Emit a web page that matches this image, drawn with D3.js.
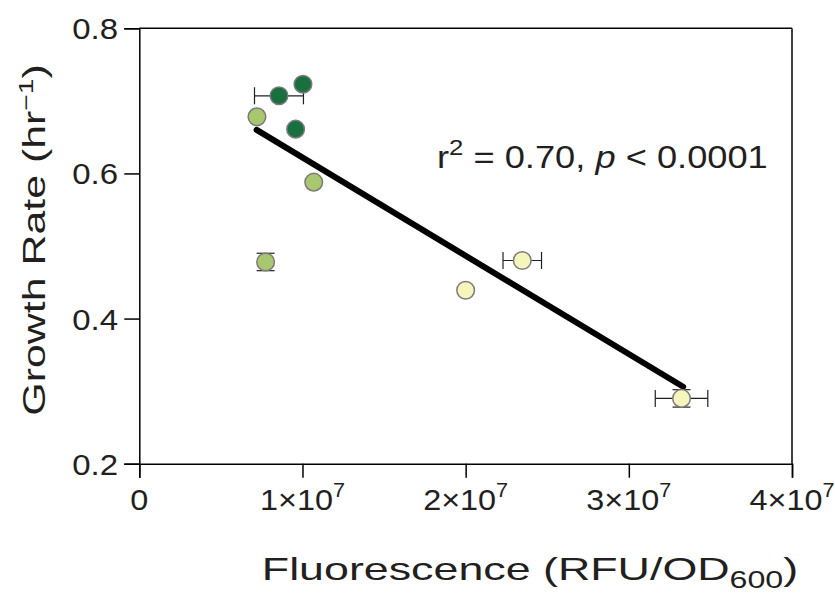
<!DOCTYPE html>
<html>
<head>
<meta charset="utf-8">
<script src="https://cdn.jsdelivr.net/npm/d3@7"></script>
<style>
  body { margin: 0; background: #fff; }
  text { font-family: "Liberation Sans", Arial, sans-serif; fill: #231f20; }
</style>
</head>
<body>
<script>
// data
const fluor  = [1.003e7, 0.856e7, 0.721e7, 0.958e7, 1.069e7, 0.774e7, 2.347e7, 2.0e7, 3.323e7];
const fluorErr = [0, 0.15e7, 0, 0, 0, 0, 0.118e7, 0, 0.161e7];
const growth = [0.723, 0.707, 0.678, 0.661, 0.588, 0.478, 0.480, 0.439, 0.290];
const growthErr = [0, 0, 0, 0, 0, 0.012, 0, 0, 0.012];
const group  = ["dark", "dark", "light", "dark", "light", "light", "pale", "pale", "pale"];
const fitX = [0.719e7, 3.333e7];
const fitY = [0.660, 0.306];
const xTicks = [0, 1e7, 2e7, 3e7, 4e7];
const yTicks = [0.2, 0.4, 0.6, 0.8];

const colors = { dark: "#18703f", light: "#a8c76e", pale: "#f6f5bc" };

// the reference type is wider than Liberation Sans, so stretch text horizontally
function widen(text, sx) {
    let b = text.node().getBBox();
    let anchor = text.attr("text-anchor") || "start";
    let ax = anchor === "middle" ? b.x + b.width / 2 : anchor === "end" ? b.x + b.width : b.x;
    text.attr("transform", `translate(${ax},0) scale(${sx},1) translate(${-ax},0)`);
}

function main() {
    let svg = d3.select("body").append("svg")
        .attr("width", 835)
        .attr("height", 596);

    let x = d3.scaleLinear().domain([0, 4e7]).range([139.3, 792]);
    let y = d3.scaleLinear().domain([0.2, 0.8]).range([463.7, 28.3]);

    // frame on top and right
    svg.append("line")
        .attr("x1", x(0)).attr("x2", x(4e7))
        .attr("y1", y(0.8)).attr("y2", y(0.8))
        .attr("stroke", "black").attr("stroke-width", 1.5);
    svg.append("line")
        .attr("x1", x(4e7)).attr("x2", x(4e7))
        .attr("y1", y(0.8)).attr("y2", y(0.2))
        .attr("stroke", "black").attr("stroke-width", 1.5);

    let xaxis = d3.axisBottom(x).tickValues(xTicks).tickSize(14).tickFormat("");
    let gx = svg.append("g")
        .attr("transform", `translate(0,${y(0.2)})`)
        .call(xaxis);

    let yaxis = d3.axisLeft(y).tickValues(yTicks).tickSize(15).tickFormat("");
    let gy = svg.append("g")
        .attr("transform", `translate(${x(0)},0)`)
        .call(yaxis);

    [gx, gy].forEach(g => {
        g.select(".domain").attr("stroke", "black").attr("stroke-width", 1.5);
        g.selectAll(".tick line").attr("stroke", "black").attr("stroke-width", 1.5);
    });

    // x tick labels
    xTicks.forEach(t => {
        let lab = svg.append("text")
            .attr("x", x(t))
            .attr("y", 510)
            .attr("text-anchor", "middle")
            .style("font-size", "30px");
        if (t === 0) {
            lab.text("0");
        } else {
            lab.text((t / 1e7) + "×10");
            lab.append("tspan")
                .attr("dy", -13)
                .style("font-size", "20px")
                .text("7");
        }
        widen(lab, 1.08);
    });

    // y tick labels
    yTicks.forEach(t => {
        let lab = svg.append("text")
            .attr("x", 118)
            .attr("y", y(t) + 11)
            .attr("text-anchor", "end")
            .style("font-size", "30px")
            .text(t.toFixed(1));
        widen(lab, 1.1);
    });

    // axis titles
    let xt = svg.append("text")
        .attr("x", 530)
        .attr("y", 580)
        .attr("text-anchor", "middle")
        .style("font-size", "32px")
        .text("Fluorescence (RFU/OD");
    xt.append("tspan")
        .attr("dy", 8)
        .style("font-size", "23px")
        .text("600");
    xt.append("tspan")
        .attr("dy", -8)
        .text(")");
    widen(xt, 1.4);

    let yg = svg.append("g")
        .attr("transform", "translate(45,240) rotate(-90)");
    let yt = yg.append("text")
        .attr("x", 0)
        .attr("y", 0)
        .attr("text-anchor", "middle")
        .style("font-size", "32px")
        .text("Growth Rate (hr");
    yt.append("tspan")
        .attr("dy", -12)
        .style("font-size", "21px")
        .text("−1");
    yt.append("tspan")
        .attr("dy", 12)
        .text(")");
    widen(yt, 1.34);

    // regression line
    svg.append("line")
        .attr("x1", x(fitX[0])).attr("y1", y(fitY[0]))
        .attr("x2", x(fitX[1])).attr("y2", y(fitY[1]))
        .attr("stroke", "black")
        .attr("stroke-width", 6)
        .attr("stroke-linecap", "round");

    // annotation
    let ann = svg.append("text")
        .attr("x", 437)
        .attr("y", 168)
        .style("font-size", "31px")
        .text("r");
    ann.append("tspan").attr("dy", -13).style("font-size", "22px").text("2");
    ann.append("tspan").attr("dy", 13).text(" = 0.70, ");
    ann.append("tspan").style("font-style", "italic").text("p");
    ann.append("tspan").text(" < 0.0001");
    widen(ann, 1.17);

    // error bars
    let idx = d3.range(fluor.length);
    idx.filter(i => fluorErr[i] > 0).forEach(i => {
        let cy = y(growth[i]);
        let x0 = x(fluor[i] - fluorErr[i]), x1 = x(fluor[i] + fluorErr[i]);
        svg.append("line").attr("x1", x0).attr("x2", x1).attr("y1", cy).attr("y2", cy)
            .attr("stroke", "#231f20").attr("stroke-width", 1.2);
        [x0, x1].forEach(xx => {
            svg.append("line").attr("x1", xx).attr("x2", xx).attr("y1", cy - 8.5).attr("y2", cy + 8.5)
                .attr("stroke", "#231f20").attr("stroke-width", 1.2);
        });
    });
    idx.filter(i => growthErr[i] > 0).forEach(i => {
        let cx = x(fluor[i]);
        let y0 = y(growth[i] - growthErr[i]), y1 = y(growth[i] + growthErr[i]);
        svg.append("line").attr("x1", cx).attr("x2", cx).attr("y1", y0).attr("y2", y1)
            .attr("stroke", "#231f20").attr("stroke-width", 1.2);
        [y0, y1].forEach(yy => {
            svg.append("line").attr("x1", cx - 9).attr("x2", cx + 9).attr("y1", yy).attr("y2", yy)
                .attr("stroke", "#231f20").attr("stroke-width", 1.2);
        });
    });

    // points
    svg.selectAll("circle.pt")
        .data(idx)
        .enter()
        .append("circle")
        .attr("class", "pt")
        .attr("cx", i => x(fluor[i]))
        .attr("cy", i => y(growth[i]))
        .attr("r", 8.8)
        .attr("fill", i => colors[group[i]])
        .attr("stroke", "#7a7a7a")
        .attr("stroke-width", 1.5);
}

main()
</script>
</body>
</html>
